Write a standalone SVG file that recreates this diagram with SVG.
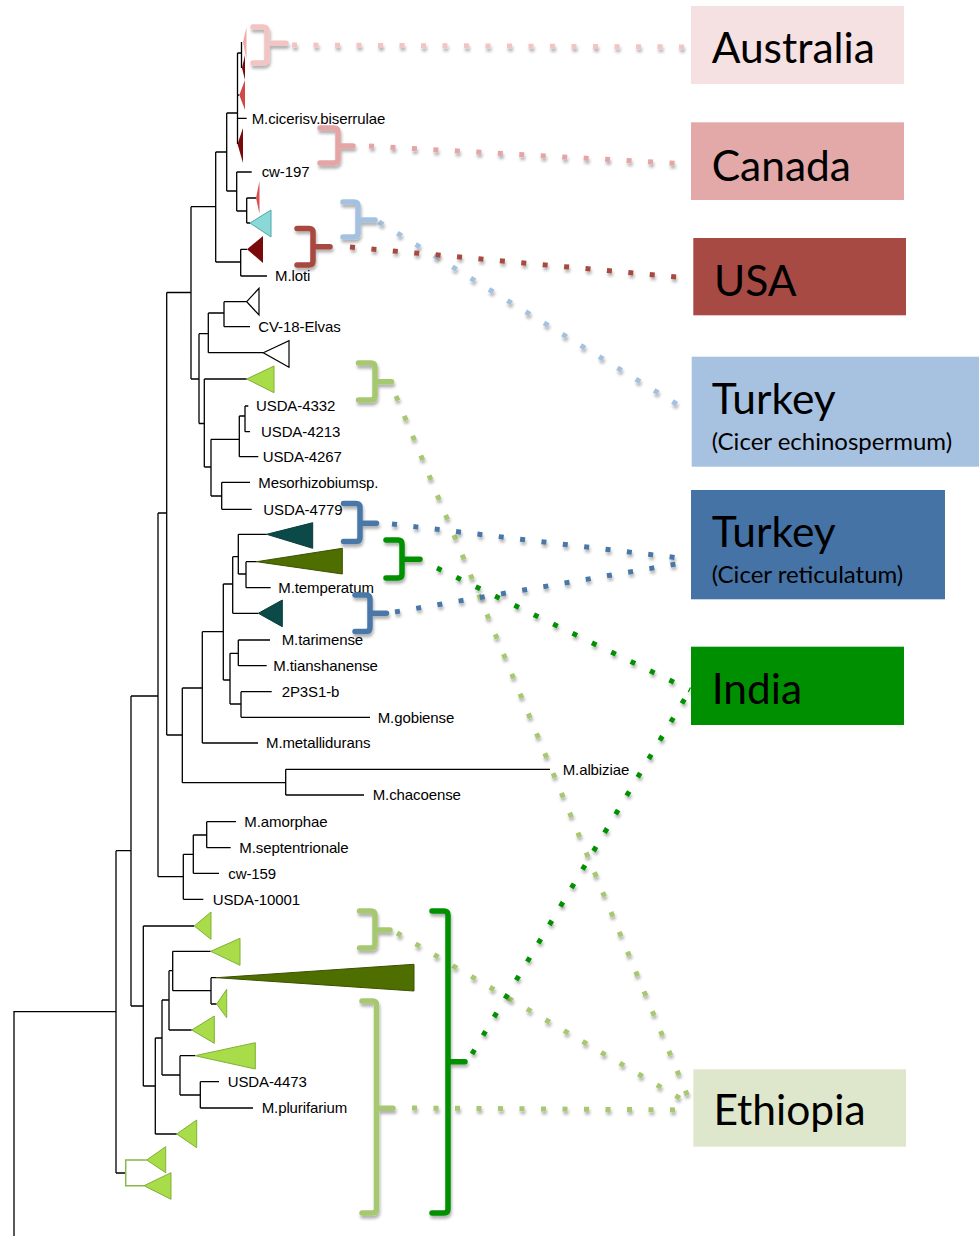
<svg xmlns="http://www.w3.org/2000/svg" width="979" height="1236" viewBox="0 0 979 1236">
<style>
.br{fill:none;stroke:#000;stroke-width:1.3}
.lbl{font-family:"Liberation Sans",Arial,sans-serif;font-size:15px;fill:#000;letter-spacing:-0.1px}
.big{font-family:Lato,"Open Sans",sans-serif;font-size:42.5px;fill:#000}
.sub{font-family:Lato,"Open Sans",sans-serif;font-size:24px;fill:#000}
.lg{fill:#a8dc48;stroke:#80b038;stroke-width:1}
.ol{fill:#4e6e00;stroke:#3a5200;stroke-width:1}
.tl{fill:#0b4a48;stroke:#083a38;stroke-width:1}
.brace{fill:none;stroke-width:5.5;stroke-linecap:round;stroke-linejoin:round;filter:url(#sh)}
.dot{fill:none;stroke-width:5;stroke-dasharray:5 16.5;filter:url(#sh)}
</style>
<defs>
<filter id="sh" filterUnits="userSpaceOnUse" x="0" y="0" width="979" height="1236">
<feDropShadow dx="1" dy="3" stdDeviation="1.5" flood-color="#000" flood-opacity="0.3"/>
</filter>
</defs>
<rect width="979" height="1236" fill="#fff"/>

<g id="tree">
<path class="br" d="M14,1236V1011.7H116 M116,850.7V1173 M116,850.7H131 M131,696V1006 M131,696H158 M131,1006H143.3 M158,513V876.7 M158,513H166.7 M158,876.7H183.3 M166.7,292.5V735 M166.7,292.5H191 M166.7,735H182.3 M191,206.7V379 M191,206.7H215.7 M191,379H199 M199,333.7V423.5 M199,333.7H208.3 M208.3,313V352.7 M208.3,313H224 M224,301.7V326.7 M224,301.7H246.7 M224,326.7H250 M208.3,352.7H263.3 M199,423.5H204.3 M204.3,379V467 M204.3,379H246.7 M204.3,467H211 M211,439.3V496 M211,439.3H239.3 M239.3,416V456.7 M239.3,416H245 M245,406V431.7 M245,406H248.3 M245,431.7H250 M239.3,456.7H258.3 M211,496H221.7 M221.7,482.3V509.3 M221.7,482.3H250 M221.7,509.3H251.7"/>
<path class="br" d="M215.7,152V262 M215.7,152H226.7 M226.7,113V191 M226.7,113H237.5 M237.5,53V144 M237.5,53H241.5 M241.5,42V68 M237.5,95H239.3 M237.5,118.3H246.7 M226.7,191H236.7 M236.7,172V211 M236.7,172H251.7 M236.7,211H246.7 M246.7,198V223 M246.7,198H256 M246.7,223H250 M215.7,262H240.7 M240.7,249.3V276 M240.7,249.3H247 M240.7,276H267"/>
<path class="br" d="M182.3,688V782.7 M182.3,688H202.3 M202.3,631.7V743 M202.3,631.7H223.3 M223.3,584V680 M223.3,584H232.7 M232.7,556.7V613.3 M232.7,556.7H238.3 M238.3,534.3V574 M238.3,534.3H266.7 M238.3,574H246 M246,561.7V587.7 M246,561.7H256.7 M246,587.7H270.7 M232.7,613.3H258.3 M223.3,680H230 M230,653.3V704 M230,653.3H238.3 M238.3,640V665.7 M238.3,640H270 M238.3,665.7H266.7 M230,704H241 M241,691.7V717.3 M241,691.7H271.7 M241,717.3H370 M202.3,743H258 M182.3,782.7H285.7 M285.7,769.3V795 M285.7,769.3H550 M285.7,795H364"/>
<path class="br" d="M183.3,854.3V899.3 M183.3,854.3H193.3 M193.3,835V873.3 M193.3,835H206.7 M206.7,821.7V847.7 M206.7,821.7H236 M206.7,847.7H230.7 M193.3,873.3H219 M183.3,899.3H203.3"/>
<path class="br" d="M143.3,926V1086 M143.3,926H194.3 M143.3,1086H155.3 M155.3,1038V1134 M155.3,1134H176.7 M155.3,1038H162 M162,1000V1075 M162,1000H169 M169,970.7V1030 M169,970.7H172.7 M172.7,951.3V990.7 M172.7,951.3H210.7 M172.7,990.7H211 M211,977.7V1004 M211,977.7H216.7 M211,1004H216.7 M169,1030H191.7 M162,1075H180 M180,1055.7V1095 M180,1055.7H195 M180,1095H200.3 M200.3,1081.7V1108 M200.3,1081.7H219 M200.3,1108H253 M116,1173H125.7"/>
<path fill="none" stroke="#86b84a" stroke-width="1.5" d="M146.7,1160H125.7V1185.7H144"/>

<polygon points="243,42 246.5,27 246.5,60" fill="#f4a8a8"/>
<polygon points="242,68 245,55 245,80" fill="#7a0a0a"/>
<polygon points="239.3,95 245,80 245,110" fill="#d04848"/>
<polygon points="237.5,144 243,128 243,163" fill="#7a0a0a"/>
<polygon points="256,198 259.5,181 259.5,214" fill="#d85050"/>
<polygon points="250,223 271,210 271,237" fill="#8ad8d8" stroke="#4fa8a8" stroke-width="1"/>
<polygon points="247,249.3 263,236 263,263" fill="#7a0a0a"/>
<polygon points="246.7,301.7 259,288.3 259,315" fill="#fff" stroke="#000" stroke-width="1.2"/>
<polygon points="263.3,352.7 289,340.7 289,367.3" fill="#fff" stroke="#000" stroke-width="1.2"/>
<polygon class="lg" points="246.7,379 274,366 274,392.7"/>
<polygon class="tl" points="266.7,534.3 312.7,522.7 312.7,548.3"/>
<polygon class="ol" points="256.7,561.7 342.3,548.3 342.3,574"/>
<polygon class="tl" points="258.3,613.3 282.3,600 282.3,626.7"/>
<polygon class="lg" points="194.3,926 211,912 211,939.3"/>
<polygon class="lg" points="210.7,951.3 240,938.3 240,965.3"/>
<polygon class="ol" points="216.7,977.7 414,964.3 414,991"/>
<polygon class="lg" points="216.7,1004 226.7,989.3 226.7,1017.7"/>
<polygon class="lg" points="191.7,1030 214.3,1016 214.3,1043.3"/>
<polygon class="lg" points="195,1055.7 255.3,1042.7 255.3,1069"/>
<polygon class="lg" points="176.7,1134 196.7,1120 196.7,1147.7"/>
<polygon class="lg" points="146.7,1160 165.7,1146.7 165.7,1172.7"/>
<polygon class="lg" points="144,1185.7 171,1172.7 171,1199.3"/>

<text class="lbl" x="251.7" y="123.5">M.cicerisv.biserrulae</text>
<text class="lbl" x="261.7" y="177">cw-197</text>
<text class="lbl" x="275" y="281">M.loti</text>
<text class="lbl" x="258.3" y="332">CV-18-Elvas</text>
<text class="lbl" x="256" y="411">USDA-4332</text>
<text class="lbl" x="261" y="437">USDA-4213</text>
<text class="lbl" x="262.7" y="462">USDA-4267</text>
<text class="lbl" x="258.3" y="487.5">Mesorhizobiumsp.</text>
<text class="lbl" x="263.3" y="514.5">USDA-4779</text>
<text class="lbl" x="278.3" y="593">M.temperatum</text>
<text class="lbl" x="281.7" y="645">M.tarimense</text>
<text class="lbl" x="273.3" y="671">M.tianshanense</text>
<text class="lbl" x="281.7" y="697">2P3S1-b</text>
<text class="lbl" x="377.7" y="722.5">M.gobiense</text>
<text class="lbl" x="266" y="748">M.metallidurans</text>
<text class="lbl" x="562.7" y="774.5">M.albiziae</text>
<text class="lbl" x="372.7" y="800">M.chacoense</text>
<text class="lbl" x="244.3" y="827">M.amorphae</text>
<text class="lbl" x="239.3" y="853">M.septentrionale</text>
<text class="lbl" x="228.3" y="878.5">cw-159</text>
<text class="lbl" x="212.7" y="904.5">USDA-10001</text>
<text class="lbl" x="227.7" y="1087">USDA-4473</text>
<text class="lbl" x="261.7" y="1113">M.plurifarium</text>
</g>

<g id="connectors">
<path class="dot" stroke="#f2c4c4" d="M292,45L688,47"/>
<path class="dot" stroke="#e5a5a5" d="M369,146L688,164"/>
<path class="dot" stroke="#a4c2e0" d="M379,222L688,411"/>
<path class="dot" stroke="#a84840" d="M350,247L688,278"/>
<path class="dot" stroke="#a6c870" d="M396,396L688,1097"/>
<path class="dot" stroke="#4a78a8" d="M392,524L688,559"/>
<path class="dot" stroke="#009000" d="M437,568L690,690"/>
<path class="dot" stroke="#4a78a8" d="M395,612L688,562"/>
<path class="dot" stroke="#a6c870" d="M397,933L688,1103"/>
<path class="dot" stroke="#a6c870" d="M412,1108L688,1110"/>
<path class="dot" stroke="#009000" d="M472,1054L690,690"/>
</g>

<g id="brace-australia"><path class="brace" stroke="#f2c4c4" d="M253,27H263Q267,27 267,31V59Q267,63 263,63H253M267,43.3H286"/></g>
<g id="brace-canada"><path class="brace" stroke="#e5a5a5" d="M320,128H334Q338,128 338,132V159Q338,163 334,163H320M338,146H353"/></g>
<g id="brace-turkey-echi"><path class="brace" stroke="#a4c2e0" d="M343,202H354Q358,202 358,206V233Q358,237 354,237H343M358,220H375"/></g>
<g id="brace-usa"><path class="brace" stroke="#a84840" d="M297,228.5H309Q313,228.5 313,232.5V261Q313,265 309,265H297M313,246.7H330"/></g>
<g id="brace-lg-top"><path class="brace" stroke="#a6c870" d="M358.5,363H371Q375,363 375,367V396Q375,400 371,400H358.5M375,381.7H391.5"/></g>
<g id="brace-blue1"><path class="brace" stroke="#4a78a8" d="M343.5,503.5H356Q360,503.5 360,507.5V537.5Q360,541.5 356,541.5H343.5M360,523.3H376.5"/></g>
<g id="brace-green"><path class="brace" stroke="#009000" d="M386,540H398Q402,540 402,544V574Q402,578 398,578H386M402,559.3H420"/></g>
<g id="brace-blue2"><path class="brace" stroke="#4a78a8" d="M355,595H366Q370,595 370,599V627.5Q370,631.5 366,631.5H355M370,613.3H386.5"/></g>
<g id="brace-lg-bottom"><path class="brace" stroke="#a6c870" d="M359.5,911H371Q375,911 375,915V944Q375,948 371,948H359.5M375,930H390"/></g>
<g id="brace-lg-big"><path class="brace" stroke="#a6c870" d="M362,1001H372.5Q376.5,1001 376.5,1005V1209Q376.5,1213 372.5,1213H362M376.5,1108.3H393"/></g>
<g id="brace-green-big"><path class="brace" stroke="#009000" d="M432,911H444Q448,911 448,915V1209Q448,1213 444,1213H432M448,1061.7H465"/></g>

<g id="box-australia"><rect x="691" y="6" width="213" height="78" fill="#f5e1e1"/><text class="big" x="711.7" y="63.3">Australia</text></g>
<g id="box-canada"><rect x="691" y="122.3" width="213" height="77.7" fill="#e3a8a8"/><text class="big" x="711.7" y="180.5">Canada</text></g>
<g id="box-usa"><rect x="693.3" y="238" width="212.7" height="77.3" fill="#a84a44"/><text class="big" x="714" y="295.5">USA</text></g>
<g id="box-turkey-echi"><rect x="691.7" y="356.7" width="287.3" height="110" fill="#a7c2e0"/><text class="big" x="711.7" y="414">Turkey</text><text class="sub" x="711.7" y="450">(Cicer echinospermum)</text></g>
<g id="box-turkey-reti"><rect x="691" y="490" width="254" height="109.3" fill="#4673a5"/><text class="big" x="711.7" y="546.7">Turkey</text><text class="sub" x="711.7" y="582.7">(Cicer reticulatum)</text></g>
<g id="box-india"><rect x="691" y="646.7" width="213" height="78.3" fill="#008f00"/><text class="big" x="711.7" y="704.3">India</text></g>
<g id="box-ethiopia"><rect x="693.3" y="1069.3" width="212.7" height="77.4" fill="#dee7cb"/><text class="big" x="713.5" y="1125">Ethiopia</text></g>
</svg>
